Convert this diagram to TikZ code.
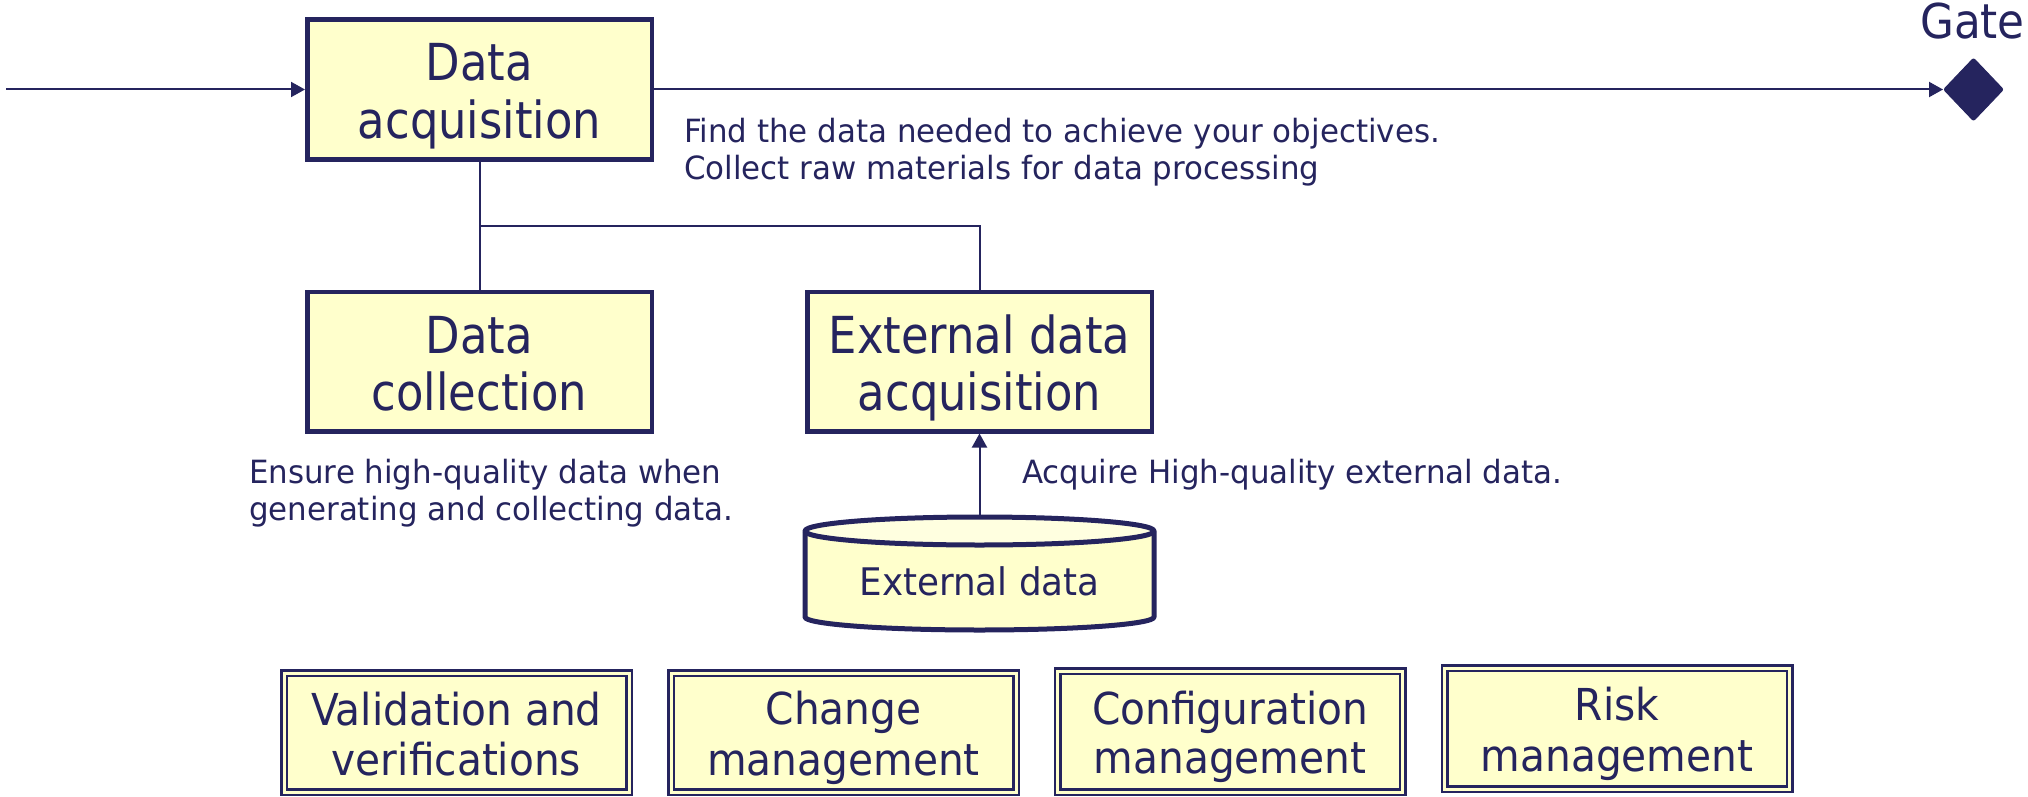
\documentclass[tikz,border=0pt]{standalone}
\usepackage{fontspec}
\setmainfont{DejaVu Sans}
\newfontfamily\fbig[FakeStretch=0.88]{DejaVu Sans}
\newfontfamily\fmid[FakeStretch=0.925]{DejaVu Sans}
\newfontfamily\fcyl[FakeStretch=0.94]{DejaVu Sans}
\newfontfamily\fsml[FakeStretch=0.965]{DejaVu Sans}
\newfontfamily\fgate[FakeStretch=0.91]{DejaVu Sans}
\usetikzlibrary{arrows.meta,shapes.geometric}
\definecolor{navy}{HTML}{25245E}
\definecolor{boxfill}{HTML}{FFFFCC}
\definecolor{topfill}{HTML}{FFFFE0}
\begin{document}
\begin{tikzpicture}[x=1pt,y=-1pt,
  procbox/.style={draw=navy, fill=boxfill, line width=4.5pt, inner sep=0pt,
    minimum width=344.5pt, minimum height=139.5pt},
  dblbox/.style={draw=navy, double=boxfill, line width=2.5pt, double distance=3pt,
    fill=boxfill, inner sep=0pt, minimum width=345pt},
  bigtxt/.style={text=navy, font=\fbig\fontsize{51}{58}\selectfont, anchor=base, inner sep=0pt},
  midtxt/.style={text=navy, font=\fmid\fontsize{44}{50}\selectfont, anchor=base, inner sep=0pt},
  cyltxt/.style={text=navy, font=\fcyl\fontsize{38}{44}\selectfont, anchor=base, inner sep=0pt},
  smltxt/.style={text=navy, font=\fsml\fontsize{32}{37}\selectfont, anchor=base west, inner sep=0pt},
  gatetxt/.style={text=navy, font=\fgate\fontsize{48}{54}\selectfont, anchor=base, inner sep=0pt},
  conn/.style={draw=navy, line width=2pt},
  arr/.style={conn, -{Triangle[length=14pt,width=15pt]}},
]
\useasboundingbox (0,0) rectangle (2028,797);

% main process boxes
\node[procbox] (acq) at (479.5,89.5) {};
\node[bigtxt] (acqA) at (479.5,80.7) {Data};
\node[bigtxt] (acqB) at (479.5,138.3) {acquisition};

\node[procbox] (coll) at (479.5,361.5) {};
\node[bigtxt] (collA) at (479.5,353.5) {Data};
\node[bigtxt] (collB) at (479.5,410) {collection};

\node[procbox] (ext) at (979.5,361.5) {};
\node[bigtxt] (extA) at (979.5,353.5) {External data};
\node[bigtxt] (extB) at (979.5,410) {acquisition};

% gate
\node[diamond, fill=navy, draw=navy, line width=1pt, rounded corners=2pt,
  minimum width=60pt, minimum height=63pt, inner sep=0pt] (gate) at (1973.5,89.5) {};
\node[gatetxt] (gatelbl) at (1972.5,39) {Gate};

% cylinder (external data store)
\node[minimum width=349pt, minimum height=113pt, inner sep=0pt] (cyl) at (979.5,573.5) {};
\fill[boxfill] (805,531) -- (805,617) arc[start angle=180, end angle=360, x radius=174.5pt, y radius=13pt]
  -- (1154,531) arc[start angle=0, end angle=180, x radius=174.5pt, y radius=14pt] -- cycle;
\fill[topfill] (979.5,531) ellipse[x radius=174.5pt, y radius=14pt];
\draw[navy, line width=5pt, line join=round] (805,531) -- (805,617)
  arc[start angle=180, end angle=360, x radius=174.5pt, y radius=13pt]
  -- (1154,531) arc[start angle=0, end angle=180, x radius=174.5pt, y radius=14pt] -- cycle;
\draw[navy, line width=5pt] (805,531) arc[start angle=180, end angle=360, x radius=174.5pt, y radius=14pt];
\node[cyltxt] (cyllbl) at (979.5,595.7) {External data};

% connectors
\coordinate (start) at (6,89.5);
\draw[arr] (start) -- (acq.west);
\draw[arr] (acq.east) -- (gate.west);
\draw[conn] (acq.south) -- (coll.north);
\coordinate (junc) at (479.5,226);
\draw[conn] (junc) -| (ext.north);
\draw[arr] (cyl.north) -- (ext.south);

% descriptions
\node[smltxt] (descA1) at (684,142.7) {Find the data needed to achieve your objectives.};
\node[smltxt] (descA2) at (684,179.3) {Collect raw materials for data processing};
\node[smltxt] (descB1) at (249,483) {Ensure high-quality data when};
\node[smltxt] (descB2) at (249,520) {generating and collecting data.};
\node[smltxt] (descC) at (1022,483) {Acquire High-quality external data.};

% support process boxes
\node[dblbox, minimum height=119pt] (val) at (456.5,732.5) {};
\node[midtxt] (valA) at (456.5,725) {Validation and};
\node[midtxt] (valB) at (456.5,775) {verifications};

\node[dblbox, minimum height=119pt] (chg) at (843.5,732.5) {};
\node[midtxt] (chgA) at (843.5,724) {Change};
\node[midtxt] (chgB) at (843.5,775) {management};

\node[dblbox, minimum height=121pt] (cfg) at (1230,731.5) {};
\node[midtxt] (cfgA) at (1230,724) {Configuration};
\node[midtxt] (cfgB) at (1230,773) {management};

\node[dblbox, minimum height=121pt] (risk) at (1617,728.5) {};
\node[midtxt] (riskA) at (1617,720.7) {Risk};
\node[midtxt] (riskB) at (1617,771.7) {management};
\end{tikzpicture}
\end{document}
